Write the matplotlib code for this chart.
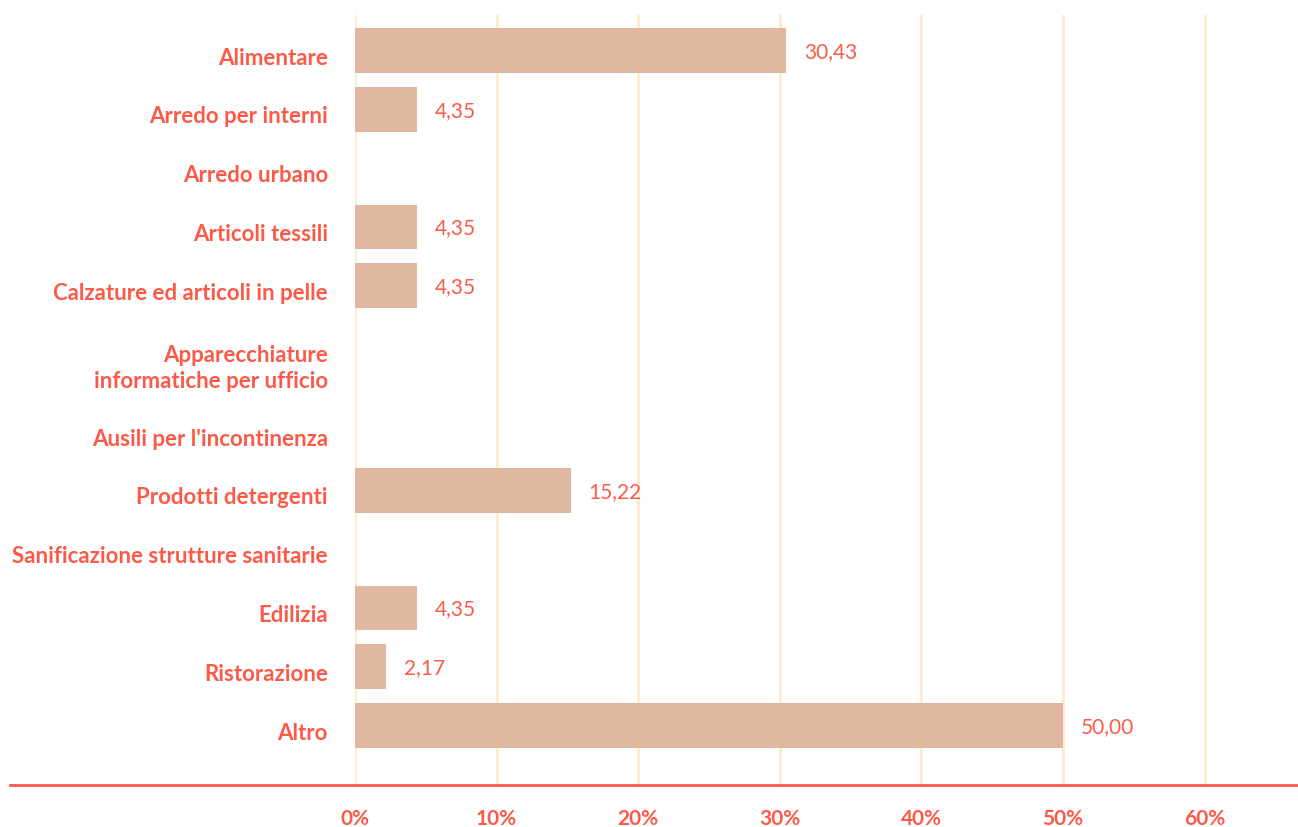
import matplotlib.pyplot as plt
import matplotlib.transforms as mtransforms
from matplotlib.lines import Line2D

categorie = [
    "Alimentare",
    "Arredo per interni",
    "Arredo urbano",
    "Articoli tessili",
    "Calzature ed articoli in pelle",
    "Apparecchiature\ninformatiche per ufficio",
    "Ausili per l'incontinenza",
    "Prodotti detergenti",
    "Sanificazione strutture sanitarie",
    "Edilizia",
    "Ristorazione",
    "Altro",
]
valori = [30.43, 4.35, 0, 4.35, 4.35, 0, 0, 15.22, 0, 4.35, 2.17, 50.00]
tick_x = [0, 10, 20, 30, 40, 50, 60]
tick_labels = ["0%", "10%", "20%", "30%", "40%", "50%", "60%"]

ROSSO = "#fc5a48"
BARRA = "#e0b8a0"
GRIGLIA = "#fdebcb"

plt.rcParams['font.family'] = ['Lato', 'DejaVu Sans']

W, H = 1298, 827
fig = plt.figure(figsize=(W / 100, H / 100), dpi=100)
ax = fig.add_axes([355 / W, 1 - 785 / H, (1298 - 355) / W, (785 - 15) / H])

# rows next to a two-line label get extra room
pos = []
y = 0.0
for i, c in enumerate(categorie):
    if i > 0:
        y += 1.24 if ("\n" in c or "\n" in categorie[i - 1]) else 1.0
    pos.append(y)

ax.barh(pos, valori, height=0.76, color=BARRA, zorder=2)

for yy, v in zip(pos, valori):
    if v > 0:
        ax.annotate(f"{v:.2f}".replace(".", ","), (v, yy), xytext=(13, -1),
                    textcoords="offset points", va="center", ha="left",
                    color=ROSSO, fontsize=15)

ax.set_xlim(0, 66.6)
ax.set_ylim(12.49, -0.604)
ax.set_xticks(tick_x)
ax.set_xticklabels(tick_labels, fontweight="bold", color=ROSSO, fontsize=15)
ax.set_yticks(pos)
ax.set_yticklabels(categorie, fontweight="bold", color=ROSSO, fontsize=16,
                   linespacing=1.3)
ax.tick_params(axis="both", length=0)
ax.tick_params(axis="x", pad=17)
ax.tick_params(axis="y", pad=19.5)
shift = mtransforms.ScaledTranslation(0, -4 / 72, fig.dpi_scale_trans)
for lab in ax.get_yticklabels():
    lab.set_horizontalalignment("right")
    lab.set_transform(lab.get_transform() + shift)

ax.grid(axis="x", color=GRIGLIA, linewidth=2, zorder=0)
ax.set_axisbelow(True)
for s in ax.spines.values():
    s.set_visible(False)

# bottom baseline runs across the full width, under the labels too
fig.add_artist(Line2D([10 / W, 1], [1 - 785 / H, 1 - 785 / H],
                      transform=fig.transFigure, color=ROSSO, linewidth=2))

fig.savefig("out.png", dpi=100)
